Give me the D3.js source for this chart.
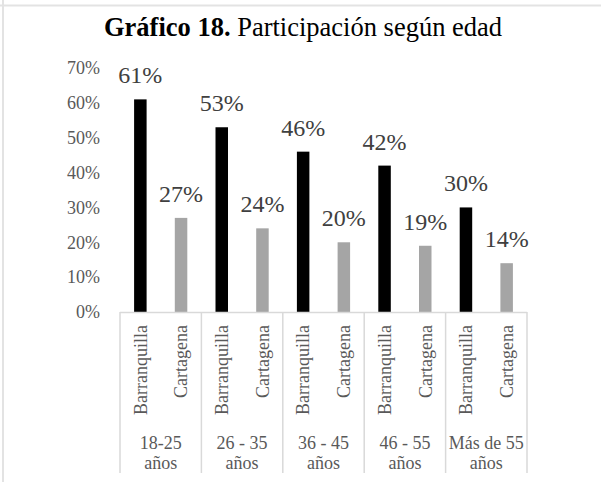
<!DOCTYPE html>
<html><head><meta charset="utf-8">
<script src="https://cdn.jsdelivr.net/npm/d3@7"></script>
<style>body{margin:0;background:#fff}svg{display:block}text{font-family:"Liberation Serif",serif}</style>
</head><body>
<script>
const groups = ["18-25 años", "26 - 35 años", "36 - 45 años", "46 - 55 años", "Más de 55 años"];
const groupLines = [["18-25","años"],["26 - 35","años"],["36 - 45","años"],["46 - 55","años"],["Más de 55","años"]];
const cities = ["Barranquilla", "Cartagena"];
const barranquilla = [61, 53, 46, 42, 30];
const cartagena = [27, 24, 20, 19, 14];
const yTicks = [0, 10, 20, 30, 40, 50, 60, 70];
const colors = {"Barranquilla": "#000000", "Cartagena": "#a5a5a5"};

const W = 601, H = 482;
const svg = d3.select("body").append("svg").attr("width", W).attr("height", H);
const font = "Liberation Serif";

// frame lines
svg.append("line").attr("x1",0).attr("x2",W).attr("y1",5.5).attr("y2",5.5).attr("stroke","#e3e3e3").attr("stroke-width",2);
svg.append("line").attr("x1",3).attr("x2",3).attr("y1",0).attr("y2",H).attr("stroke","#e3e3e3").attr("stroke-width",2);

// title
const title = svg.append("text").attr("x",303).attr("y",36).attr("text-anchor","middle")
  .attr("font-family",font).attr("font-size",26.5).attr("fill","#000");
title.append("tspan").attr("font-weight","bold").text("Gráfico 18.");
title.append("tspan").text(" Participación según edad");

const left = 120, right = 527, y0 = 312, yTop = 68;
const y = d3.scaleLinear().domain([0,70]).range([y0, yTop]);
const x0 = d3.scaleBand().domain(groups).range([left, right]).paddingInner(0).paddingOuter(0);
const x1 = d3.scaleBand().domain(cities).range([0, x0.bandwidth()]);
const barW = 12.5;

// y axis labels
const yAxis = d3.axisLeft(y).tickValues(yTicks).tickFormat(d => d + "%").tickSize(0).tickPadding(0);
const ya = svg.append("g").attr("transform", `translate(100,0)`).call(yAxis);
ya.select(".domain").remove();
ya.attr("font-family", font);
ya.selectAll("text").attr("font-family",font).attr("font-size",18).attr("fill","#595959");

const data = [];
groups.forEach((g,i) => {
  data.push({g, c:"Barranquilla", v: barranquilla[i]});
  data.push({g, c:"Cartagena", v: cartagena[i]});
});

// bars
svg.selectAll("rect.bar").data(data).enter().append("rect")
  .attr("x", d => x0(d.g) + x1(d.c) + x1.bandwidth()/2 - barW/2)
  .attr("width", barW)
  .attr("y", d => y(d.v))
  .attr("height", d => y0 - y(d.v))
  .attr("fill", d => colors[d.c]);

// value labels
svg.selectAll("text.val").data(data).enter().append("text")
  .attr("x", d => x0(d.g) + x1(d.c) + x1.bandwidth()/2)
  .attr("y", d => y(d.v) - 16)
  .attr("text-anchor","middle")
  .attr("font-family",font).attr("font-size",24).attr("fill","#404040")
  .text(d => d.v + "%");

// category axis lines
const lineColor = "#d9d9d9";
svg.append("line").attr("x1",left).attr("x2",right).attr("y1",y0+0.5).attr("y2",y0+0.5).attr("stroke",lineColor).attr("stroke-width",1.5);
const bounds = groups.map(g => x0(g)).concat([right]);
svg.selectAll("line.div").data(bounds).enter().append("line")
  .attr("x1", d => d).attr("x2", d => d).attr("y1", y0).attr("y2", 473)
  .attr("stroke", lineColor).attr("stroke-width",1.5);

// rotated city labels
svg.selectAll("text.city").data(data).enter().append("text")
  .attr("transform", d => `translate(${x0(d.g) + x1(d.c) + x1.bandwidth()/2},325) rotate(-90)`)
  .attr("dy","0.35em").attr("text-anchor","end")
  .attr("font-family",font).attr("font-size",18).attr("fill","#595959")
  .text(d => d.c);

// group labels
groups.forEach((g,i) => {
  const t = svg.append("text").attr("x", x0(g) + x0.bandwidth()/2).attr("y", 449)
    .attr("text-anchor","middle").attr("font-family",font).attr("font-size",18).attr("fill","#595959");
  groupLines[i].forEach((ln,j) => t.append("tspan").attr("x", x0(g) + x0.bandwidth()/2).attr("dy", j ? 20 : 0).text(ln));
});
</script>
</body></html>
